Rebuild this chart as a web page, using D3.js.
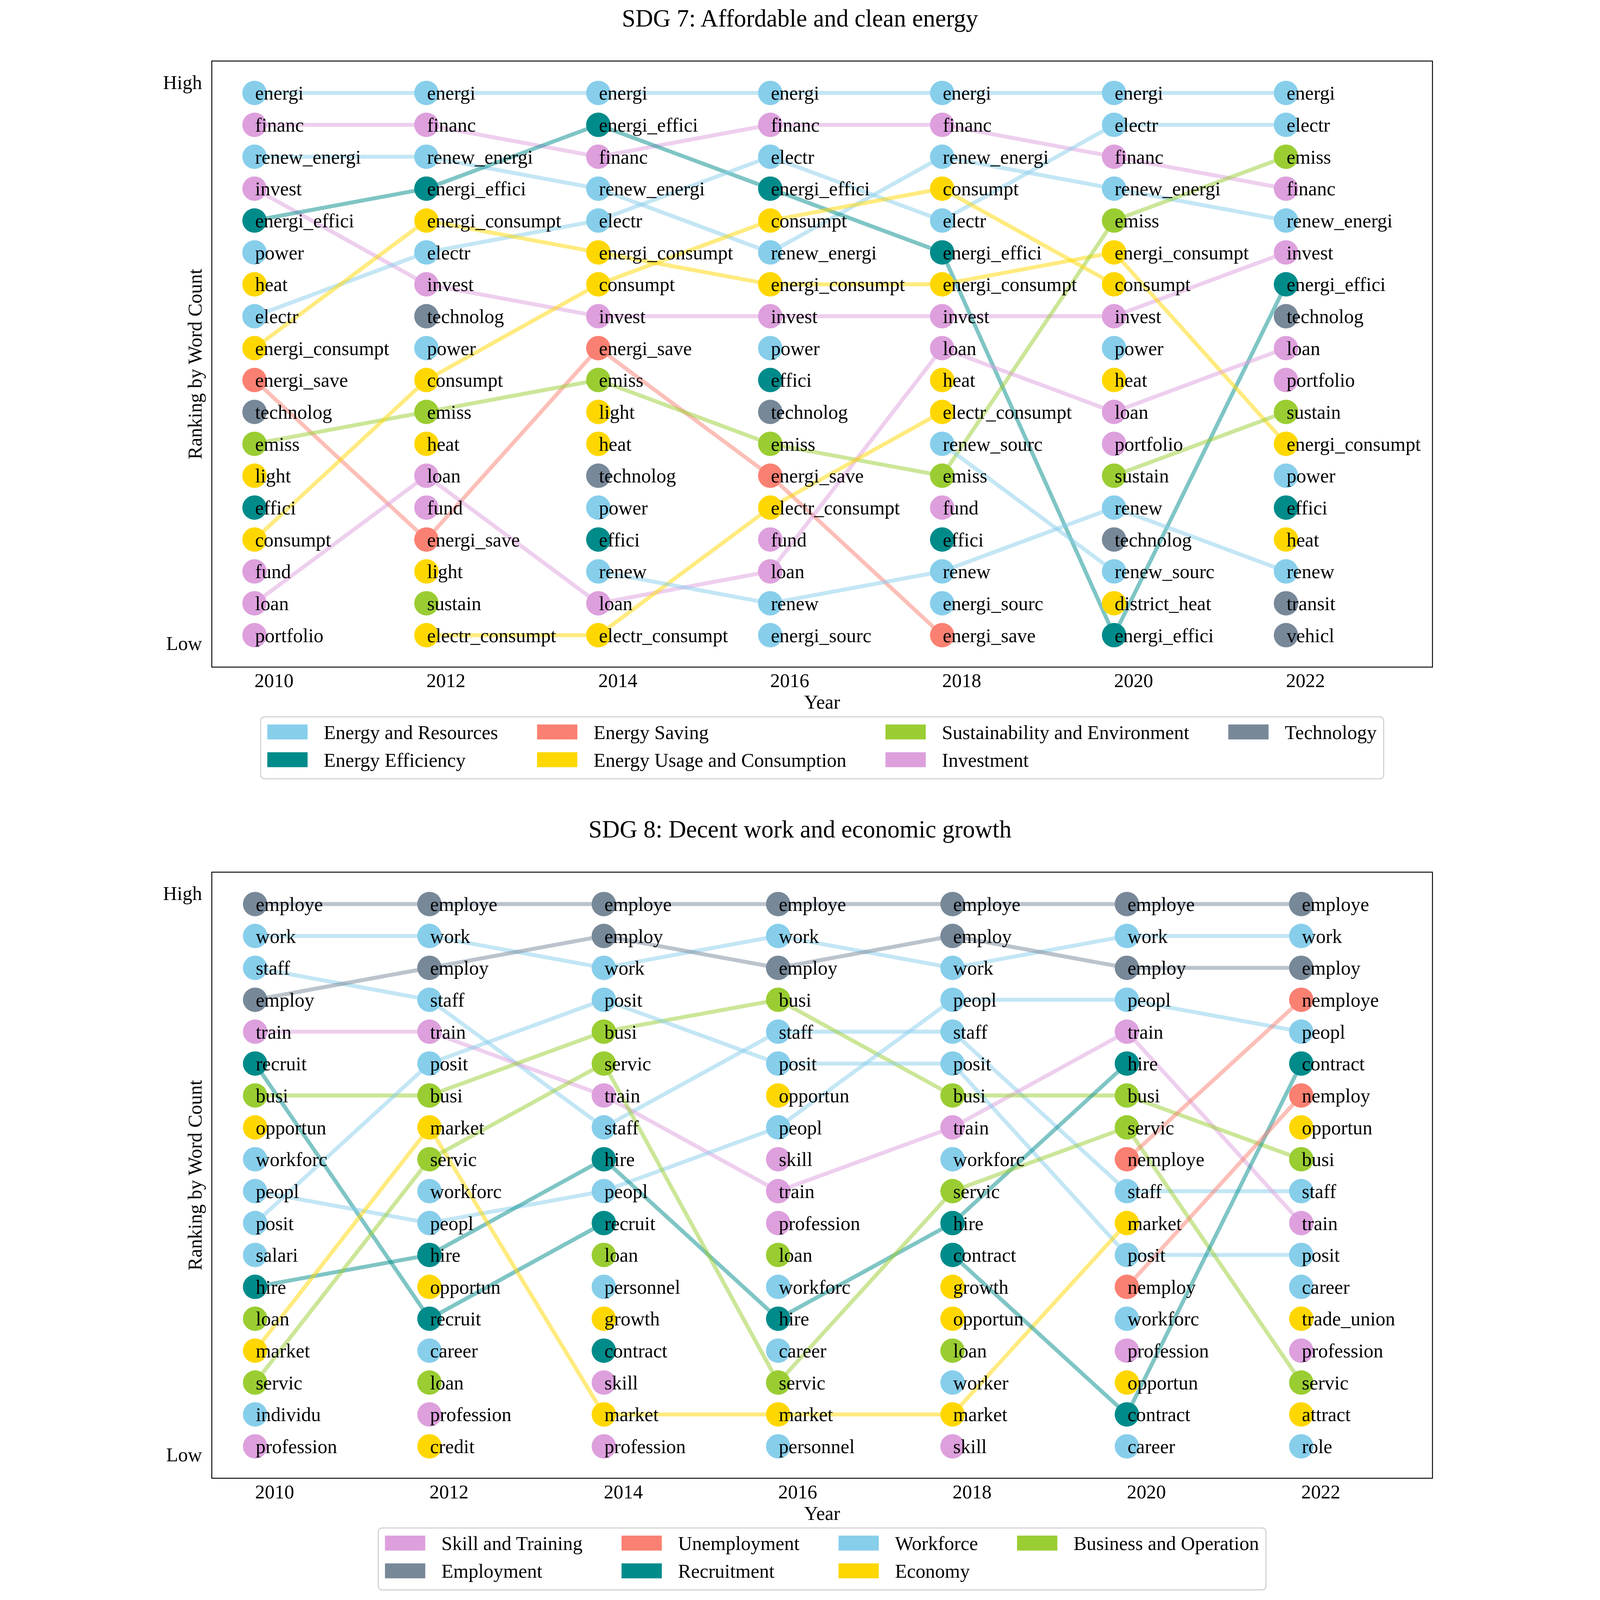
<!DOCTYPE html>
<html>
<head>
<meta charset="utf-8">
<script src="https://cdn.jsdelivr.net/npm/d3@7"></script>
<style>
  html, body { margin: 0; padding: 0; background: #fff; overflow: hidden; }
  svg { display: block; }
  text { font-family: "Liberation Serif", "Times New Roman", serif; }
</style>
</head>
<body>
<script>
// years shown on the x axis
var years = [2010, 2012, 2014, 2016, 2018, 2020, 2022];

// SDG 7: words per year, ordered from rank 1 (high) to rank 18 (low)
var sdg7Ranking = [
  ["energi","financ","renew_energi","invest","energi_effici","power","heat","electr","energi_consumpt","energi_save","technolog","emiss","light","effici","consumpt","fund","loan","portfolio"],
  ["energi","financ","renew_energi","energi_effici","energi_consumpt","electr","invest","technolog","power","consumpt","emiss","heat","loan","fund","energi_save","light","sustain","electr_consumpt"],
  ["energi","energi_effici","financ","renew_energi","electr","energi_consumpt","consumpt","invest","energi_save","emiss","light","heat","technolog","power","effici","renew","loan","electr_consumpt"],
  ["energi","financ","electr","energi_effici","consumpt","renew_energi","energi_consumpt","invest","power","effici","technolog","emiss","energi_save","electr_consumpt","fund","loan","renew","energi_sourc"],
  ["energi","financ","renew_energi","consumpt","electr","energi_effici","energi_consumpt","invest","loan","heat","electr_consumpt","renew_sourc","emiss","fund","effici","renew","energi_sourc","energi_save"],
  ["energi","electr","financ","renew_energi","emiss","energi_consumpt","consumpt","invest","power","heat","loan","portfolio","sustain","renew","technolog","renew_sourc","district_heat","energi_effici"],
  ["energi","electr","emiss","financ","renew_energi","invest","energi_effici","technolog","loan","portfolio","sustain","energi_consumpt","power","effici","heat","renew","transit","vehicl"]
];
// words whose rank is traced with lines
var sdg7Tracked = ["energi","financ","renew_energi","invest","energi_effici","electr","energi_consumpt","energi_save","emiss","consumpt","loan","electr_consumpt","renew","renew_sourc","sustain"];
var sdg7Categories = ["Energy and Resources","Energy Efficiency","Energy Saving","Energy Usage and Consumption","Sustainability and Environment","Investment","Technology"];
var sdg7Groups = [
  ["energi","renew_energi","power","electr","renew","energi_sourc","renew_sourc"],
  ["energi_effici","effici"],
  ["energi_save"],
  ["heat","energi_consumpt","light","consumpt","electr_consumpt","district_heat"],
  ["emiss","sustain"],
  ["financ","invest","fund","loan","portfolio"],
  ["technolog","transit","vehicl"]
];
var sdg7Colors = ["#87CEEB","#008B8B","#FA8072","#FFD700","#9ACD32","#DDA0DD","#778899"];

// SDG 8
var sdg8Ranking = [
  ["employe","work","staff","employ","train","recruit","busi","opportun","workforc","peopl","posit","salari","hire","loan","market","servic","individu","profession"],
  ["employe","work","employ","staff","train","posit","busi","market","servic","workforc","peopl","hire","opportun","recruit","career","loan","profession","credit"],
  ["employe","employ","work","posit","busi","servic","train","staff","hire","peopl","recruit","loan","personnel","growth","contract","skill","market","profession"],
  ["employe","work","employ","busi","staff","posit","opportun","peopl","skill","train","profession","loan","workforc","hire","career","servic","market","personnel"],
  ["employe","employ","work","peopl","staff","posit","busi","train","workforc","servic","hire","contract","growth","opportun","loan","worker","market","skill"],
  ["employe","work","employ","peopl","train","hire","busi","servic","nemploye","staff","market","posit","nemploy","workforc","profession","opportun","contract","career"],
  ["employe","work","employ","nemploye","peopl","contract","nemploy","opportun","busi","staff","train","posit","career","trade_union","profession","servic","attract","role"]
];
var sdg8Tracked = ["employe","work","staff","employ","train","recruit","busi","peopl","posit","hire","market","servic","contract","nemploye","nemploy"];
var sdg8Categories = ["Skill and Training","Employment","Unemployment","Recruitment","Workforce","Economy","Business and Operation"];
var sdg8Groups = [
  ["train","skill","profession"],
  ["employe","employ"],
  ["nemploye","nemploy"],
  ["recruit","hire","contract"],
  ["work","staff","workforc","peopl","posit","salari","individu","career","personnel","worker","role"],
  ["opportun","market","growth","credit","trade_union","attract"],
  ["busi","loan","servic"]
];
var sdg8Colors = ["#DDA0DD","#778899","#FA8072","#008B8B","#87CEEB","#FFD700","#9ACD32"];

var W = 4225, H = 5243;

// laid out in a 4225 x 5243 box, scaled to fit whatever window we get
var svg = d3.select("body").append("svg")
    .attr("viewBox", "0 0 " + W + " " + H)
    .attr("preserveAspectRatio", "xMidYMid meet")
    .style("width", "100vw")
    .style("height", "100vh");

svg.append("rect").attr("width", W).attr("height", H).attr("fill", "#fff");

var plotLeft = 185, plotRight = 4185;
var fontSize = 64;

function drawPanel(p) {
    var top = p.top, bottom = p.top + 1986;
    var g = svg.append("g");

    var x = d3.scaleLinear().domain([2009.503, p.xMax]).range([plotLeft, plotRight]);
    var y = d3.scaleLinear().domain([0, 19]).range([top, bottom]);

    // word -> colour
    var colorOf = {};
    p.groups.forEach(function(list, i) {
        list.forEach(function(w) { colorOf[w] = p.colors[i]; });
    });

    // title, centered on the figure
    g.append("text")
        .attr("x", W / 2)
        .attr("y", top - 113)
        .attr("text-anchor", "middle")
        .attr("font-size", 80)
        .text(p.title);

    // lines for tracked words
    var line = d3.line()
        .defined(function(d) { return d.rank > 0; })
        .x(function(d) { return x(d.year); })
        .y(function(d) { return y(d.rank); });

    p.tracked.forEach(function(w) {
        var pts = years.map(function(yr, i) {
            return { year: yr, rank: p.ranking[i].indexOf(w) + 1 };
        });
        g.append("path")
            .attr("d", line(pts))
            .attr("fill", "none")
            .attr("stroke", colorOf[w])
            .attr("stroke-opacity", 0.5)
            .attr("stroke-width", 13)
            .attr("stroke-linejoin", "round");
    });

    var nodes = [];
    years.forEach(function(yr, i) {
        p.ranking[i].forEach(function(w, j) {
            nodes.push({ year: yr, rank: j + 1, word: w });
        });
    });

    g.selectAll("circle.node")
        .data(nodes)
        .enter()
        .append("circle")
        .attr("class", "node")
        .attr("cx", function(d) { return x(d.year); })
        .attr("cy", function(d) { return y(d.rank); })
        .attr("r", 40)
        .attr("fill", function(d) { return colorOf[d.word]; });

    g.selectAll("text.word")
        .data(nodes)
        .enter()
        .append("text")
        .attr("class", "word")
        .attr("x", function(d) { return x(d.year) + 2; })
        .attr("y", function(d) { return y(d.rank); })
        .attr("dy", "0.35em")
        .attr("font-size", fontSize)
        .text(function(d) { return d.word; });

    // frame
    g.append("rect")
        .attr("x", plotLeft)
        .attr("y", top)
        .attr("width", plotRight - plotLeft)
        .attr("height", bottom - top)
        .attr("fill", "none")
        .attr("stroke", "#000")
        .attr("stroke-width", 3);

    // x tick labels, left aligned on the year
    g.selectAll("text.xtick")
        .data(years)
        .enter()
        .append("text")
        .attr("class", "xtick")
        .attr("x", function(d) { return x(d); })
        .attr("y", bottom + 66)
        .attr("font-size", fontSize)
        .text(function(d) { return d; });

    g.append("text")
        .attr("x", (plotLeft + plotRight) / 2)
        .attr("y", bottom + 136)
        .attr("text-anchor", "middle")
        .attr("font-size", fontSize)
        .text("Year");

    // y tick labels
    g.append("text")
        .attr("x", 153)
        .attr("y", y(0.66))
        .attr("dy", "0.35em")
        .attr("text-anchor", "end")
        .attr("font-size", fontSize)
        .text("High");
    g.append("text")
        .attr("x", 153)
        .attr("y", y(18.25))
        .attr("dy", "0.35em")
        .attr("text-anchor", "end")
        .attr("font-size", fontSize)
        .text("Low");

    g.append("text")
        .attr("transform", "translate(152," + ((top + bottom) / 2) + ") rotate(-90)")
        .attr("text-anchor", "middle")
        .attr("font-size", fontSize)
        .text("Ranking by Word Count");

    // legend, 4 columns filled column by column
    var legTop = bottom + 163;
    var leg = g.append("g");
    var box = leg.append("rect");
    var patchW = 132, patchH = 49, textGap = 53, colGap = 128, padL = 22, padR = 23;
    var ncol = 4, nrow = 2;
    var items = p.categories.map(function(c, i) {
        return { label: c, color: p.colors[i], col: Math.floor(i / nrow), row: i % nrow };
    });
    var labels = items.map(function(d) {
        return leg.append("text")
            .attr("font-size", fontSize)
            .text(d.label);
    });
    var colW = d3.range(ncol).map(function() { return 0; });
    items.forEach(function(d, i) {
        colW[d.col] = Math.max(colW[d.col], labels[i].node().getComputedTextLength());
    });
    var totalW = padL + padR + d3.sum(colW) + ncol * (patchW + textGap) + (ncol - 1) * colGap;
    var legLeft = (plotLeft + plotRight) / 2 - totalW / 2;
    var colX = [];
    var cx = legLeft + padL;
    colW.forEach(function(w) {
        colX.push(cx);
        cx += patchW + textGap + w + colGap;
    });
    items.forEach(function(d, i) {
        var rowC = legTop + 49.5 + d.row * 91;
        leg.append("rect")
            .attr("x", colX[d.col])
            .attr("y", rowC - patchH / 2)
            .attr("width", patchW)
            .attr("height", patchH)
            .attr("fill", d.color);
        labels[i]
            .attr("x", colX[d.col] + patchW + textGap)
            .attr("y", rowC)
            .attr("dy", "0.36em");
    });
    box.attr("x", legLeft)
        .attr("y", legTop)
        .attr("width", totalW)
        .attr("height", 203)
        .attr("rx", 13)
        .attr("fill", "#fff")
        .attr("stroke", "#d0d0d0")
        .attr("stroke-width", 3.5);
}

drawPanel({
    title: "SDG 7: Affordable and clean energy",
    top: 200,
    xMax: 2023.704,
    ranking: sdg7Ranking,
    tracked: sdg7Tracked,
    categories: sdg7Categories,
    groups: sdg7Groups,
    colors: sdg7Colors
});

drawPanel({
    title: "SDG 8: Decent work and economic growth",
    top: 2858,
    xMax: 2023.505,
    ranking: sdg8Ranking,
    tracked: sdg8Tracked,
    categories: sdg8Categories,
    groups: sdg8Groups,
    colors: sdg8Colors
});
</script>
</body>
</html>
